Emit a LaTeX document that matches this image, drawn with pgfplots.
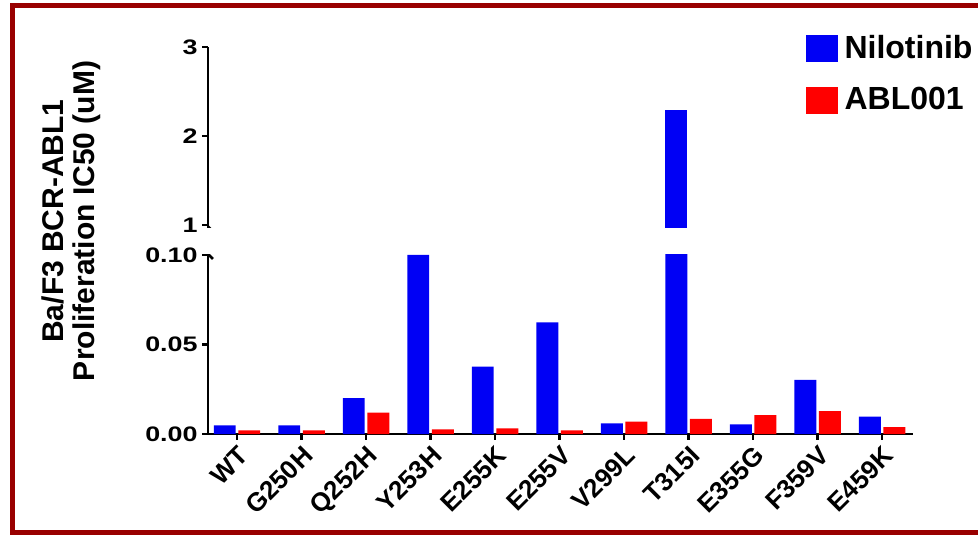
\documentclass[border=0pt]{standalone}
\usepackage{pgfplots}
\pgfplotsset{compat=1.18}
\usepackage{pgfplotstable}
\usepackage{fontspec}
\setmainfont{Liberation Sans}
\newfontfamily\tickfont{Liberation Sans}[FakeStretch=1.28]
\definecolor{framered}{RGB}{153,0,0}
\definecolor{barblue}{RGB}{0,0,245}
\definecolor{barred}{RGB}{255,0,0}

\pgfplotstableread{
idx nil abl
0 0.0048 0.0020
1 0.0048 0.0020
2 0.0200 0.0119
3 0.1000 0.0026
4 0.0376 0.0032
5 0.0624 0.0020
6 0.0060 0.0069
7 2.29 0.0084
8 0.0054 0.0106
9 0.0302 0.0128
10 0.0097 0.0039
}\datatable

\pgfplotsset{common/.style={
  scale only axis, width=352.5pt, xmin=-0.45, xmax=10.48,
  anchor=south west, tick align=outside,
  axis line style={line width=1.4pt, black},
  major tick style={line width=1.4pt, black},
  major tick length=3pt,
  /pgf/number format/assume math mode=true,
  y tick label style={font=\fontsize{10.5}{12}\tickfont\bfseries, inner sep=2pt},
}}

\begin{document}
\begin{tikzpicture}
\path[use as bounding box] (0,0) rectangle (489pt,267.5pt);
\clip (0,0) rectangle (489pt,267.5pt);
\draw[framered, line width=2.5pt] (6.25pt,1.5pt) rectangle (520pt,264.5pt);

% lower segment
\begin{axis}[common, at={(104pt,50.5pt)}, height=89.5pt,
  ymin=0, ymax=0.1,
  axis x line*=bottom, axis y line*=left,
  ytick={0,0.05,0.1}, yticklabels={0.00,0.05,0.10},
  xtick={0,...,10},
  xticklabels={WT,G250H,Q252H,Y253H,E255K,E255V,V299L,T315I,E355G,F359V,E459K},
  x tick label style={rotate=45, anchor=north east, inner sep=1.5pt,
    font=\fontsize{13}{14}\selectfont\bfseries},
]
\addplot[ybar, bar width=0.34, bar shift=-0.19, fill=barblue, draw=none] table[x=idx,y=nil]{\datatable};
\addplot[ybar, bar width=0.34, bar shift=0.19, fill=barred, draw=none] table[x=idx,y=abl]{\datatable};
\draw[line width=1.4pt] (axis description cs:0,1) ++(-1pt,1.5pt) -- ++(3.5pt,-3.5pt);
\end{axis}

% upper segment
\begin{axis}[common, at={(104pt,153.65pt)}, height=90.35pt,
  ymin=0.97, ymax=3,
  axis x line=none, axis y line*=left,
  ytick={1,2,3}, yticklabels={1,2,3},
  legend image code/.code={\fill[#1] (0pt,-6.75pt) rectangle (16pt,6.75pt);},
  legend style={at={(0.847,1.0775)}, anchor=north west, draw=none, fill=none,
    inner sep=0pt, column sep=2.5pt, row sep=11pt,
    nodes={inner sep=1pt},
    font=\fontsize{16}{17}\selectfont\bfseries},
  legend cell align=left,
]
\addlegendimage{fill=barblue, draw=none}
\addlegendentry{Nilotinib}
\addlegendimage{fill=barred, draw=none}
\addlegendentry{ABL001}
\addplot[ybar, bar width=0.34, bar shift=-0.19, fill=barblue, draw=none, forget plot] coordinates {(7,2.29)};
\draw[line width=1.4pt] (axis description cs:0,0) ++(-0.5pt,1pt) -- ++(3.5pt,-3.5pt);
\end{axis}

\node[rotate=90, anchor=north, align=center, inner sep=0pt,
  font=\fontsize{15}{15.5}\selectfont\bfseries] at (20.5pt,157pt)
  {Ba/F3 BCR-ABL1\\Proliferation IC50 (uM)};
\end{tikzpicture}
\end{document}
